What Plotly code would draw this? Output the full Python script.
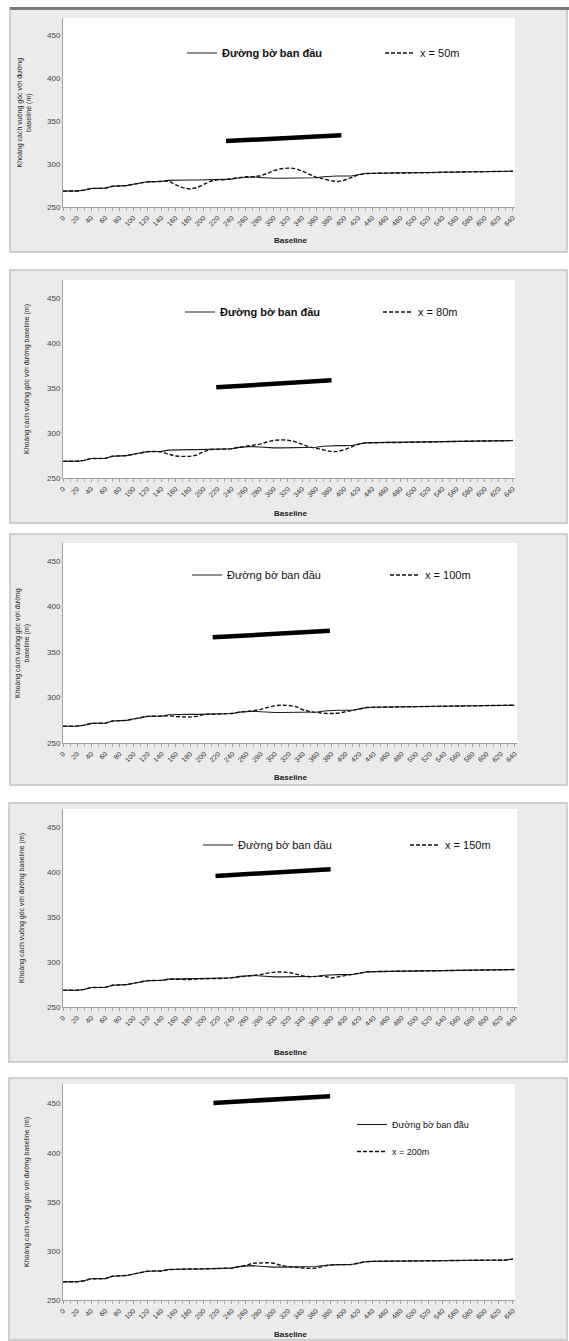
import plotly.graph_objects as go

# ---------------- data ----------------
x_m = [0, 10, 20, 30, 40, 50, 60, 70, 80, 90,
       100, 110, 120, 130, 140, 150, 160, 170, 180, 190,
       200, 210, 220, 230, 240, 250, 260, 270, 280, 290,
       300, 310, 320, 330, 340, 350, 360, 370, 380, 390,
       400, 410, 420, 430, 440, 450, 460, 470, 480, 490,
       500, 510, 520, 530, 540, 550, 560, 570, 580, 590,
       600, 610, 620, 630, 640]

shore0 = [268.5, 268.5, 268.6, 269.6, 271.6, 271.7, 271.8, 274.2, 274.7, 274.9,
          276.4, 278.2, 279.3, 279.5, 279.6, 281.0, 281.4, 281.5, 281.5, 281.5,
          281.6, 281.6, 281.7, 281.8, 282.5, 284.0, 284.6, 285.0, 284.4, 283.6,
          283.5, 283.5, 283.5, 283.5, 283.5, 283.6, 284.1, 285.2, 285.8, 286.0,
          286.0, 286.1, 287.5, 289.0, 289.3, 289.4, 289.4, 289.5, 289.5, 289.5,
          289.6, 289.6, 289.7, 290.1, 290.4, 290.5, 290.5, 290.5, 290.5, 290.6,
          290.6, 290.6, 290.7, 290.8, 291.6]

pred_50 = [268.5, 268.5, 268.6, 269.6, 271.6, 271.7, 271.8, 274.2, 274.7, 274.9,
           276.4, 278.2, 279.3, 279.5, 279.6, 280.3, 276.0, 272.6, 271.0, 272.4,
           276.2, 280.0, 281.7, 281.8, 283.0, 284.5, 285.2, 285.4, 286.0, 289.0,
           292.3, 294.5, 295.3, 294.7, 292.0, 288.2, 284.6, 283.0, 280.6, 279.6,
           281.2, 284.3, 287.3, 289.0, 289.3, 289.4, 289.4, 289.5, 289.5, 289.5,
           289.6, 289.6, 289.7, 290.1, 290.4, 290.5, 290.5, 290.5, 290.5, 290.6,
           290.6, 290.6, 290.7, 290.8, 291.6]

pred_80 = [268.5, 268.5, 268.6, 269.6, 271.6, 271.7, 271.8, 274.2, 274.7, 274.9,
           276.4, 278.2, 279.3, 279.5, 279.0, 276.5, 274.4, 274.0, 274.0, 275.4,
           279.4, 281.6, 281.7, 281.8, 282.5, 284.0, 285.0, 286.0, 287.6, 290.0,
           291.8, 292.4, 292.0, 290.4, 287.2, 284.6, 283.0, 281.2, 279.6, 279.3,
           281.4, 284.4, 287.5, 289.0, 289.3, 289.4, 289.4, 289.5, 289.5, 289.5,
           289.6, 289.6, 289.7, 290.1, 290.4, 290.5, 290.5, 290.5, 290.5, 290.6,
           290.6, 290.6, 290.7, 290.8, 291.6]

pred_100 = [268.5, 268.5, 268.6, 269.6, 271.6, 271.7, 271.8, 274.2, 274.7, 274.9,
            276.4, 278.2, 279.3, 279.5, 279.6, 280.0, 279.0, 278.6, 278.5, 279.4,
            281.4, 281.6, 281.7, 281.8, 282.5, 284.0, 284.6, 285.6, 287.0, 289.4,
            291.2, 291.5, 291.3, 290.0, 286.6, 284.4, 283.3, 282.6, 282.4, 282.8,
            284.4, 286.0, 287.5, 289.0, 289.3, 289.4, 289.4, 289.5, 289.5, 289.5,
            289.6, 289.6, 289.7, 290.1, 290.4, 290.5, 290.5, 290.5, 290.5, 290.6,
            290.6, 290.6, 290.7, 290.8, 291.6]

pred_150 = [268.5, 268.5, 268.6, 269.6, 271.6, 271.7, 271.8, 274.2, 274.7, 274.9,
            276.4, 278.2, 279.3, 279.5, 279.6, 281.0, 280.6, 280.3, 280.5, 281.2,
            281.6, 281.6, 281.7, 281.8, 282.5, 284.0, 284.6, 285.0, 286.0, 287.6,
            288.8, 288.9, 288.4, 286.6, 284.4, 283.6, 284.1, 284.4, 282.2, 283.4,
            285.4, 286.1, 287.5, 289.0, 289.3, 289.4, 289.4, 289.5, 289.5, 289.5,
            289.6, 289.6, 289.7, 290.1, 290.4, 290.5, 290.5, 290.5, 290.5, 290.6,
            290.6, 290.6, 290.7, 290.8, 291.6]

pred_200 = [268.5, 268.5, 268.6, 269.6, 271.6, 271.7, 271.8, 274.2, 274.7, 274.9,
            276.4, 278.2, 279.3, 279.5, 279.6, 281.0, 281.4, 281.5, 281.5, 281.5,
            281.6, 281.6, 281.7, 281.8, 282.5, 284.0, 285.2, 287.4, 288.0, 288.0,
            287.4, 285.2, 284.0, 283.5, 283.0, 282.2, 282.6, 284.0, 285.8, 286.0,
            286.0, 286.1, 287.5, 289.0, 289.3, 289.4, 289.4, 289.5, 289.5, 289.5,
            289.6, 289.6, 289.7, 290.1, 290.4, 290.5, 290.5, 290.5, 290.5, 290.6,
            290.6, 290.6, 290.7, 290.8, 291.6]

scenario_names = ["x = 50m", "x = 80m", "x = 100m", "x = 150m", "x = 200m"]
predictions = [pred_50, pred_80, pred_100, pred_150, pred_200]

# breakwater (thick line) end points per panel
bw_x = [[232, 396], [218, 382], [212, 378], [216, 379], [214, 380]]
bw_y = [[326.8, 333.5], [350.7, 358.5], [366.2, 373.5], [395.6, 403.0], [450.7, 457.5]]

x_tick_vals = [0, 20, 40, 60, 80, 100, 120, 140, 160, 180, 200, 220, 240, 260, 280, 300, 320,
               340, 360, 380, 400, 420, 440, 460, 480, 500, 520, 540, 560, 580, 600, 620, 640]
y_tick_vals = [250, 300, 350, 400, 450]

series_base = "Đường bờ ban đầu"
y_titles = ["Khoảng cách vuông góc với đường<br>baseline (m)",
            "Khoảng cách vuông góc với đường baseline (m)",
            "Khoảng cách vuông góc với đường<br>baseline (m)",
            "Khoảng cách vuông góc với đường baseline (m)",
            "Khoảng cách vuông góc với đường baseline (m)"]
x_title = "Baseline"

# ---------------- layout geometry (pixels) ----------------
W, H = 569, 1341
panel_boxes = [(10, 8, 567, 252), (10, 270, 567, 523), (10, 534, 567, 785),
               (9, 803, 567, 1062), (9, 1078, 567, 1340)]
plot_boxes = [(63, 18, 515, 207), (63, 280, 515, 478), (63, 543, 517, 743),
              (63, 809, 517, 1007), (63, 1084, 515, 1300)]
legend_pos = [(182, 53, 'h'), (180, 312, 'h'), (187, 575, 'h'), (198, 845, 'h'), (352, 1138, 'v')]
legend_entry_w = [153, 153, 153, 162, 0]
legend_bold = [True, True, False, False, False]
ytitle_x = [24, 27, 22, 22, 27]
xtitle_y = [240, 513, 777, 1052, 1334]


def fx(p):
    return p / W


def fy(p):
    return 1 - p / H


fig = go.Figure()
shapes = []
annotations = []
layout = {}

for i in range(5):
    n = '' if i == 0 else str(i + 1)
    xa, ya = 'x' + n, 'y' + n
    leg = 'legend' + n
    x0, y0, x1, y1 = plot_boxes[i]
    bx0, by0, bx1, by1 = panel_boxes[i]

    shapes.append(dict(type='rect', xref='paper', yref='paper', layer='below',
                       x0=fx(bx0), x1=fx(bx1), y0=fy(by1), y1=fy(by0),
                       fillcolor='#ebebeb', line=dict(color='#c2c2c2', width=1.5)))
    shapes.append(dict(type='rect', xref='paper', yref='paper', layer='below',
                       x0=fx(x0), x1=fx(x1), y0=fy(y1), y1=fy(y0),
                       fillcolor='white', line=dict(width=0)))

    grp = dict(legendgroup='a') if i == 4 else {}
    grp2 = dict(legendgroup='b') if i == 4 else {}
    name1 = ('<b>' + series_base + '</b>') if legend_bold[i] else series_base
    fig.add_trace(go.Scatter(x=x_m, y=shore0, mode='lines', name=name1,
                             line=dict(color='#1e1e1e', width=1.1),
                             xaxis=xa, yaxis=ya, legend=leg, **grp))
    fig.add_trace(go.Scatter(x=x_m, y=predictions[i], mode='lines', name=scenario_names[i],
                             line=dict(color='#111111', width=1.4, dash='4px,2px'),
                             xaxis=xa, yaxis=ya, legend=leg, **grp2))
    fig.add_trace(go.Scatter(x=bw_x[i], y=bw_y[i], mode='lines', showlegend=False,
                             line=dict(color='#000000', width=4.5),
                             xaxis=xa, yaxis=ya))

    layout['xaxis' + n] = dict(domain=[fx(x0), fx(x1)], anchor=ya, range=[0, 643],
                               tickmode='array', tickvals=x_tick_vals,
                               ticktext=[str(v) for v in x_tick_vals],
                               tickangle=-45, tickfont=dict(size=7, color='#333'),
                               showline=True, linecolor='#a0a0a0', linewidth=1,
                               ticks='outside', ticklen=3, tickcolor='#a0a0a0',
                               minor=dict(ticks='outside', ticklen=3, dtick=10, tick0=0,
                                          tickcolor='#b0b0b0'),
                               showgrid=False, zeroline=False, fixedrange=True)
    layout['yaxis' + n] = dict(domain=[fy(y1), fy(y0)], anchor=xa, range=[250, 470],
                               tickmode='array', tickvals=y_tick_vals,
                               tickfont=dict(size=8, color='#444'),
                               showline=True, linecolor='#a0a0a0', linewidth=1,
                               ticks='', showgrid=False, zeroline=False, fixedrange=True)

    lx, ly, orient = legend_pos[i]
    ld = dict(x=fx(lx), y=fy(ly), xanchor='left', yanchor='middle', orientation=orient,
              bgcolor='rgba(0,0,0,0)', borderwidth=0, itemwidth=30,
              font=dict(size=11 if i < 4 else 9, color='#111',
                        family='Liberation Sans, Arial, sans-serif'))
    if orient == 'h':
        ld['entrywidth'] = legend_entry_w[i]
        ld['entrywidthmode'] = 'pixels'
    else:
        ld['tracegroupgap'] = 8
    layout[leg] = ld

    annotations.append(dict(xref='paper', yref='paper', x=fx(ytitle_x[i]), y=fy((y0 + y1) / 2),
                            text=y_titles[i], textangle=-90, showarrow=False,
                            font=dict(size=7, color='#222'), xanchor='center', yanchor='middle'))
    annotations.append(dict(xref='paper', yref='paper', x=fx(290), y=fy(xtitle_y[i]),
                            text='<b>' + x_title + '</b>', showarrow=False,
                            font=dict(size=8, color='#222'), xanchor='center', yanchor='middle'))

# dark top bar of the first panel
shapes.append(dict(type='rect', xref='paper', yref='paper', layer='below',
                   x0=fx(10), x1=fx(569), y0=fy(10), y1=fy(7),
                   fillcolor='#7a7a7a', line=dict(width=0)))

fig.update_layout(width=W, height=H,
                  margin=dict(l=0, r=0, t=0, b=0, pad=0, autoexpand=False),
                  paper_bgcolor='white', plot_bgcolor='rgba(0,0,0,0)',
                  font=dict(family='Liberation Sans, Arial, sans-serif', color='#222'),
                  shapes=shapes, annotations=annotations, **layout)

fig.write_html("out.html")
